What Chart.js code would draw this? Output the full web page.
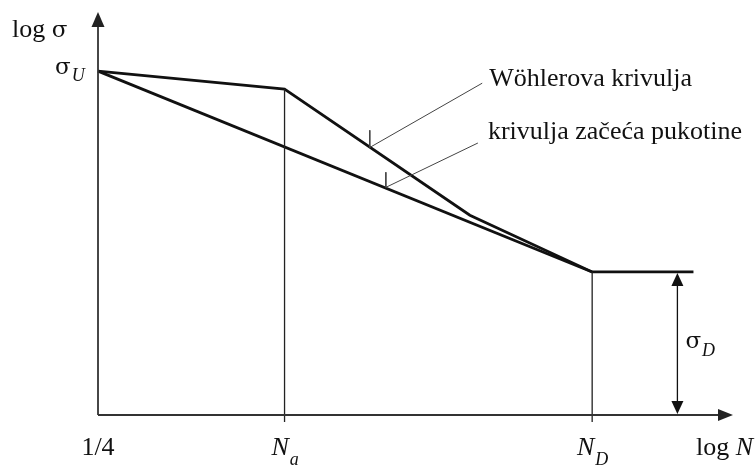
<!DOCTYPE html>
<html><head><meta charset="utf-8">
<script src="https://cdn.jsdelivr.net/npm/chart.js@4"></script>
<style>html,body{margin:0;padding:0;background:#fff}#wrap{width:756px;height:470px;position:relative}</style>
</head><body><div id="wrap"><canvas id="c"></canvas></div>
<script>
// Schematic units: x = log N, y = log σ
const xTickValues = [0, 3.02, 8.0];
const xTickMain = ['1/4', 'N', 'N'];
const xTickSub = ['', 'a', 'D'];
const xTickItalic = [false, true, true];
const sigmaU = 10;
const sigmaD = 4.16;
const wohlerX = [0, 3.02, 6.02, 8.0, 9.64];
const wohlerY = [10, 9.48, 5.81, 4.16, 4.16];
const crackX = [0, 8.0];
const crackY = [10, 4.16];
const wohlerLeaderX = [4.40, 4.40, 6.22];
const wohlerLeaderY = [8.28, 7.78, 9.65];
const crackLeaderX = [4.66, 4.66, 6.15];
const crackLeaderY = [7.06, 6.62, 7.91];
const sigmaDArrowX = 9.38;
const axisXMax = 10.28;
const axisYMax = 11.72;
const curveLabels = ['Wöhlerova krivulja', 'krivulja začeća pukotine'];
const axisTitleY = ['log ', 'σ'];
const axisTitleX = ['log ', 'N'];
const sigmaLabels = ['σ', 'U', 'D'];

const pts = (xs, ys) => xs.map((x, i) => ({x, y: ys[i]}));
const tickBelow = -0.2;

const FONT = '"Liberation Serif", "Times New Roman", serif';
const SIGMA_FONT = '"DejaVu Serif", serif';
const mainSize = 26, subSize = 18, sigmaSize = 23;

function ds(data, width, color) {
  return {data, borderColor: color, borderWidth: width, pointRadius: 0, tension: 0,
          fill: false, clip: false, borderJoinStyle: 'miter', borderCapStyle: 'butt'};
}

function arrowHead(ctx, tx, ty, dir, len, half) {
  ctx.beginPath();
  if (dir === 'up') { ctx.moveTo(tx, ty); ctx.lineTo(tx - half, ty + len); ctx.lineTo(tx + half, ty + len); }
  else if (dir === 'down') { ctx.moveTo(tx, ty); ctx.lineTo(tx - half, ty - len); ctx.lineTo(tx + half, ty - len); }
  else { ctx.moveTo(tx, ty); ctx.lineTo(tx - len, ty - half); ctx.lineTo(tx - len, ty + half); }
  ctx.closePath(); ctx.fill();
}

function mainFont(text, italic) {
  if (text === 'σ') return sigmaSize + 'px ' + SIGMA_FONT;
  return (italic ? 'italic ' : '') + mainSize + 'px ' + FONT;
}
function compositeWidth(ctx, main, sub, italic) {
  ctx.font = mainFont(main, italic);
  let w = ctx.measureText(main).width;
  ctx.font = 'italic ' + subSize + 'px ' + FONT;
  return w + (sub ? ctx.measureText(sub).width : 0);
}
function drawComposite(ctx, x, y, main, sub, italic, subDrop) {
  ctx.textAlign = 'left'; ctx.textBaseline = 'alphabetic';
  ctx.font = mainFont(main, italic);
  ctx.fillText(main, x, y);
  const w = ctx.measureText(main).width;
  if (sub) { ctx.font = 'italic ' + subSize + 'px ' + FONT; ctx.fillText(sub, x + w + 1, y + subDrop); }
}

const decor = {
  id: 'decor',
  afterDatasetsDraw(chart) {
    const ctx = chart.ctx, xs = chart.scales.x, ys = chart.scales.y;
    const X = v => xs.getPixelForValue(v), Y = v => ys.getPixelForValue(v);
    ctx.save();
    ctx.fillStyle = '#222';
    // axis arrowheads
    arrowHead(ctx, X(0), Y(axisYMax), 'up', 15, 6.5);
    arrowHead(ctx, X(axisXMax), Y(0), 'right', 15, 6);
    // sigma_D double arrow heads
    ctx.fillStyle = '#111';
    arrowHead(ctx, X(sigmaDArrowX), Y(sigmaD) + 1, 'up', 13, 6);
    arrowHead(ctx, X(sigmaDArrowX), Y(0) - 1, 'down', 13, 6);

    ctx.fillStyle = '#111';
    ctx.textAlign = 'left'; ctx.textBaseline = 'alphabetic';
    // y title
    ctx.font = mainSize + 'px ' + FONT;
    const ty = Y(axisYMax) + 25, tx = X(0) - 86;
    ctx.fillText(axisTitleY[0], tx, ty);
    const lw0 = ctx.measureText(axisTitleY[0]).width;
    ctx.font = sigmaSize + 'px ' + SIGMA_FONT;
    ctx.fillText(axisTitleY[1], tx + lw0, ty);
    // sigma_U
    drawComposite(ctx, X(0) - 43, Y(sigmaU) + 3, sigmaLabels[0], sigmaLabels[1], false, 7);
    // x tick labels
    xTickValues.forEach((v, i) => {
      const w = compositeWidth(ctx, xTickMain[i], xTickSub[i], xTickItalic[i]);
      drawComposite(ctx, X(v) - w / 2, 455, xTickMain[i], xTickSub[i], xTickItalic[i], 10);
    });
    // x title
    ctx.font = mainSize + 'px ' + FONT; ctx.textAlign = 'left';
    ctx.fillText(axisTitleX[0], X(axisXMax) - 37, 455);
    const lw = ctx.measureText(axisTitleX[0]).width;
    ctx.font = 'italic ' + mainSize + 'px ' + FONT;
    ctx.fillText(axisTitleX[1], X(axisXMax) - 37 + lw, 455);
    // sigma_D
    const mid = (Y(sigmaD) + Y(0)) / 2;
    drawComposite(ctx, X(sigmaDArrowX) + 8, mid + 5, sigmaLabels[0], sigmaLabels[2], false, 8);
    // curve labels
    ctx.font = mainSize + 'px ' + FONT; ctx.textAlign = 'left';
    ctx.fillText(curveLabels[0], X(wohlerLeaderX[2]) + 7, Y(wohlerLeaderY[2]) + 3);
    ctx.fillText(curveLabels[1], X(crackLeaderX[2]) + 10, Y(crackLeaderY[2]) - 4);
    ctx.restore();
  }
};

new Chart(document.getElementById('c'), {
  type: 'line',
  data: {
    datasets: [
      ds([{x: 0, y: 0}, {x: 0, y: axisYMax - 0.3}], 1.8, '#333'),
      ds([{x: 0, y: 0}, {x: axisXMax - 0.2, y: 0}], 1.8, '#333'),
      ds([{x: xTickValues[1], y: wohlerY[1]}, {x: xTickValues[1], y: tickBelow}], 1.3, '#222'),
      ds([{x: xTickValues[2], y: sigmaD}, {x: xTickValues[2], y: tickBelow}], 1.3, '#222'),
      ds([{x: sigmaDArrowX, y: sigmaD - 0.3}, {x: sigmaDArrowX, y: 0.3}], 1.3, '#111'),
      ds(pts(wohlerLeaderX, wohlerLeaderY), 1, '#444'),
      ds(pts(crackLeaderX, crackLeaderY), 1, '#444'),
      ds(pts(crackX, crackY), 2.8, '#111'),
      ds(pts(wohlerX, wohlerY), 2.8, '#111')
    ]
  },
  options: {
    responsive: true, maintainAspectRatio: false, animation: false,
    layout: {padding: {left: 98, right: 23, top: 12, bottom: 55}},
    plugins: {legend: {display: false}, tooltip: {enabled: false}, title: {display: false}},
    events: [],
    scales: {
      x: {type: 'linear', min: 0, max: axisXMax, display: false},
      y: {type: 'linear', min: 0, max: axisYMax, display: false}
    }
  },
  plugins: [decor]
});
</script>
</body></html>
